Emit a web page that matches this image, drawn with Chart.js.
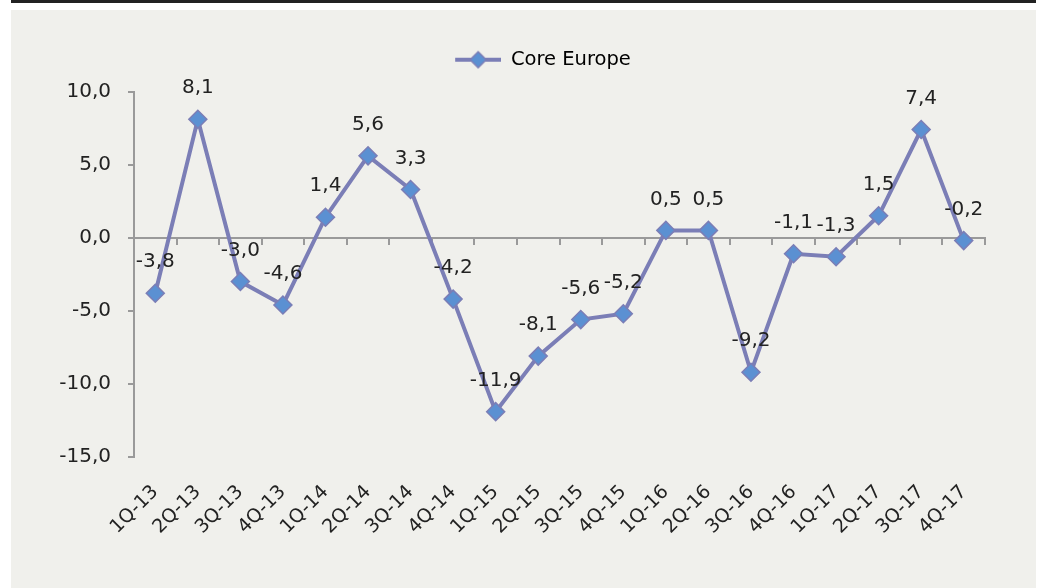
<!DOCTYPE html>
<html>
<head>
<meta charset="utf-8">
<script src="https://cdn.jsdelivr.net/npm/chart.js@4.4.1/dist/chart.umd.min.js"></script>
<style>
    body { margin: 0; background: #ffffff; }
    #topbar { position: absolute; left: 11px; top: 0; width: 1025px; height: 3px; background: #222222; }
    #panel { position: absolute; left: 11px; top: 10px; width: 1025px; height: 578px; background: #f0f0ec; }
</style>
</head>
<body>
<div id="topbar"></div>
<div id="panel"><canvas id="core-chart"></canvas></div>
<script>
const quarters = ['1Q-13', '2Q-13', '3Q-13', '4Q-13', '1Q-14', '2Q-14', '3Q-14', '4Q-14',
                  '1Q-15', '2Q-15', '3Q-15', '4Q-15', '1Q-16', '2Q-16', '3Q-16', '4Q-16',
                  '1Q-17', '2Q-17', '3Q-17', '4Q-17'];
const coreEurope = [-3.8, 8.1, -3.0, -4.6, 1.4, 5.6, 3.3, -4.2,
                    -11.9, -8.1, -5.6, -5.2, 0.5, 0.5, -9.2, -1.1,
                    -1.3, 1.5, 7.4, -0.2];
const yTicks = [-15, -10, -5, 0, 5, 10];

const LINE_COLOR = '#7b7eb6';
const MARKER_FILL = '#5b90d2';
const AXIS_COLOR = '#9a9a9a';
const TEXT_COLOR = '#222222';
const FONT = '"DejaVu Sans"';

function fmt(v) {
    return v.toFixed(1).replace('.', ',');
}

// legend swatch: line with a diamond, with empty room on the left so the
// legend sits a bit right of centre like the original
const SWATCH_PAD = 80;
function legendSwatch() {
    const c = document.createElement('canvas');
    c.width = SWATCH_PAD + 46;
    c.height = 20;
    const g = c.getContext('2d');
    g.translate(SWATCH_PAD, 0);
    g.strokeStyle = LINE_COLOR;
    g.lineWidth = 4;
    g.beginPath();
    g.moveTo(0, 10);
    g.lineTo(46, 10);
    g.stroke();
    g.beginPath();
    g.moveTo(23, 2);
    g.lineTo(31, 10);
    g.lineTo(23, 18);
    g.lineTo(15, 10);
    g.closePath();
    g.fillStyle = MARKER_FILL;
    g.fill();
    g.lineWidth = 1.5;
    g.stroke();
    return c;
}

const pointLabels = {
    id: 'pointLabels',
    afterDatasetsDraw(chart) {
        const ctx = chart.ctx;
        const meta = chart.getDatasetMeta(0);
        ctx.save();
        ctx.font = '20px ' + FONT;
        ctx.fillStyle = TEXT_COLOR;
        ctx.textAlign = 'center';
        ctx.textBaseline = 'middle';
        meta.data.forEach(function(pt, i) {
            ctx.fillText(fmt(coreEurope[i]), pt.x, pt.y - 31);
        });
        ctx.restore();
    }
};

const swatch = legendSwatch();
const ctx = document.getElementById('core-chart').getContext('2d');

new Chart(ctx, {
    type: 'line',
    data: {
        labels: quarters,
        datasets: [{
            label: 'Core Europe',
            data: coreEurope,
            xAxisID: 'x',
            yAxisID: 'y',
            borderColor: LINE_COLOR,
            borderWidth: 4,
            tension: 0,
            fill: false,
            pointStyle: 'rectRot',
            pointRadius: 9,
            pointHoverRadius: 9,
            pointBackgroundColor: MARKER_FILL,
            pointBorderColor: LINE_COLOR,
            pointBorderWidth: 1.5
        }]
    },
    options: {
        responsive: true,
        maintainAspectRatio: false,
        animation: false,
        layout: {
            padding: { top: 30, left: 10, right: 51, bottom: 0 }
        },
        scales: {
            x: {
                type: 'category',
                position: { y: 0 },
                offset: true,
                grid: {
                    offset: true,
                    drawOnChartArea: false,
                    drawTicks: true,
                    tickLength: 6,
                    color: AXIS_COLOR,
                    lineWidth: 2
                },
                border: { display: true, color: AXIS_COLOR, width: 2 },
                ticks: { display: false }
            },
            x2: {
                type: 'category',
                position: 'bottom',
                labels: quarters,
                offset: true,
                grid: { display: false, drawTicks: false },
                border: { display: false },
                ticks: {
                    autoSkip: false,
                    minRotation: 45,
                    maxRotation: 45,
                    padding: 24,
                    color: TEXT_COLOR,
                    font: { family: FONT, size: 19 }
                },
                afterFit: function(scale) {
                    scale.height = 131;
                }
            },
            y: {
                min: -15,
                max: 10,
                afterBuildTicks: function(scale) {
                    scale.ticks = yTicks.map(function(v) { return { value: v }; });
                },
                grid: {
                    drawOnChartArea: false,
                    drawTicks: true,
                    tickLength: 6,
                    color: AXIS_COLOR,
                    lineWidth: 2
                },
                border: { display: true, color: AXIS_COLOR, width: 2 },
                ticks: {
                    padding: 17,
                    color: TEXT_COLOR,
                    font: { family: FONT, size: 20 },
                    callback: function(value) {
                        return fmt(value);
                    }
                },
                afterFit: function(scale) {
                    scale.width = 113;
                }
            }
        },
        plugins: {
            legend: {
                display: true,
                position: 'top',
                labels: {
                    usePointStyle: true,
                    pointStyleWidth: SWATCH_PAD + 46,
                    color: TEXT_COLOR,
                    font: { family: FONT, size: 19.5 },
                    generateLabels: function(chart) {
                        return [{
                            text: 'Core Europe',
                            pointStyle: swatch,
                            fillStyle: MARKER_FILL,
                            strokeStyle: LINE_COLOR,
                            lineWidth: 0,
                            datasetIndex: 0,
                            hidden: false
                        }];
                    }
                }
            },
            // empty title used only as a spacer between legend and plot
            title: {
                display: true,
                text: '',
                weight: 500,
                padding: { top: 0, bottom: 2 },
                font: { size: 10, lineHeight: 1 }
            },
            tooltip: { enabled: false }
        }
    },
    plugins: [pointLabels]
});
</script>
</body>
</html>
